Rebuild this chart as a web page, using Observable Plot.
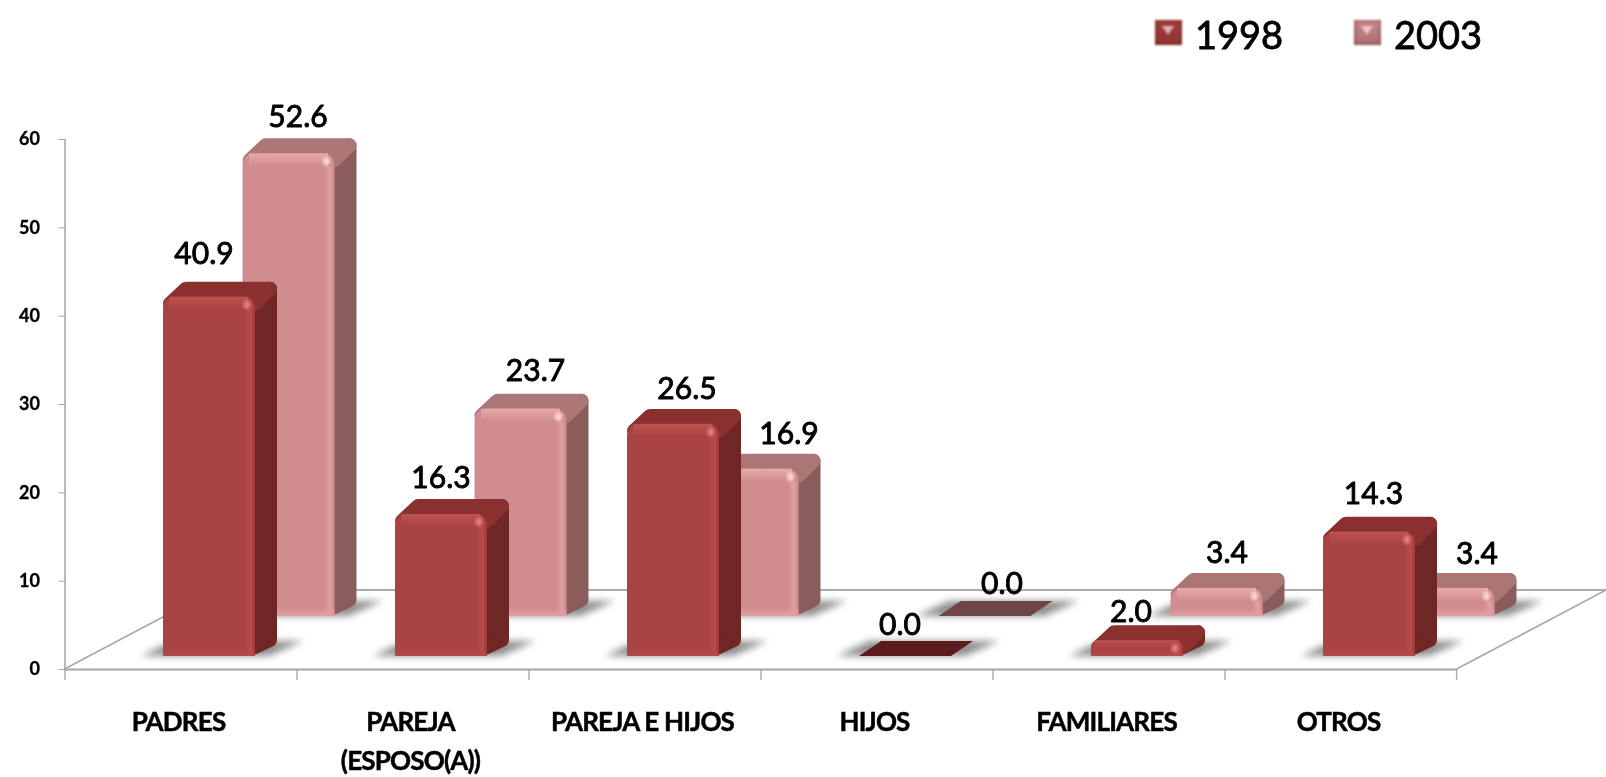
<!DOCTYPE html>
<html lang="es">
<head>
<meta charset="utf-8">
<script src="https://cdn.jsdelivr.net/npm/d3@7"></script>
<script src="https://cdn.jsdelivr.net/npm/@observablehq/plot@0.6"></script>
<style>
  html, body { margin: 0; background: #fff; overflow: hidden; }
  #legend { position: relative; height: 70px; font-family: Lato, sans-serif; font-size: 38px; color: #000; }
  #legend .swatch { position: absolute; top: 20px; width: 27px; height: 25px; box-shadow: inset 0 0 4px rgba(60,0,0,.55); filter: blur(.8px); }
  #legend .swatch::after { content: ""; position: absolute; left: 7px; top: 6px; border-left: 6.5px solid transparent; border-right: 6.5px solid transparent; border-top: 9px solid rgba(255,225,225,.7); }
  #legend .name { position: absolute; top: 11px; line-height: 46px; filter: blur(.5px); -webkit-text-stroke: .8px #000; }
  #chart svg { display: block; filter: blur(.7px); }
  #chart svg g[aria-label="x-axis tick label"] text { letter-spacing: -.8px; stroke: #000; stroke-width: .5px; }
  #chart svg g[aria-label="y-axis tick label"] text { stroke: #000; stroke-width: .3px; }
</style>
</head>
<body>
<div id="legend"></div>
<div id="chart"></div>
<script>
const categories = ["PADRES", "PAREJA\n(ESPOSO(A))", "PAREJA E HIJOS", "HIJOS", "FAMILIARES", "OTROS"];
const values1998 = [40.9, 16.3, 26.5, 0.0, 2.0, 14.3];
const values2003 = [52.6, 23.7, 16.9, 0.0, 3.4, 3.4];
const yTicks = [0, 10, 20, 30, 40, 50, 60];

// Placement of each value label, relative to the band and bar top.
const labelDx1998 = [22.5, 27.5, 41.5, 22.5, 21.5, 32];
const labelDy1998 = [-54, -47, -46, -44, -39, -49];
const labelDx2003 = [116.5, 122, 143.5, 124.5, 117.5, 135.5];
const labelDy2003 = [-87, -88.5, -85.6, -85, -86, -85];

const styles = {
  1998: {front: "#a84341", top: "#8a3130", side: "#6f2725", flat: "#5c1b1c", grad: "a", spot: "#e87e7c",
         offsetX: 98, offsetY: -13},
  2003: {front: "#d08c8e", top: "#ad7676", side: "#8a5c5c", flat: "#6e4646", grad: "b", spot: "#fbd8d8",
         offsetX: 177.5, offsetY: -53}
};
const barW = 92, depthX = 22, depthY = 15;
const floorX = 149.5, floorY = -79;

const NS = "http://www.w3.org/2000/svg";
function el(name, attrs, parent) {
  const n = document.createElementNS(NS, name);
  for (const k in attrs) n.setAttribute(k, attrs[k]);
  if (parent) parent.appendChild(n);
  return n;
}
const pts = a => a.map(p => p.join(",")).join(" ");

const defs = () => {
  const d = el("defs", {});
  d.innerHTML = `
    <filter id="soft" x="-30%" y="-100%" width="160%" height="300%"><feGaussianBlur stdDeviation="3.6"/></filter>
    <filter id="spot" x="-100%" y="-100%" width="300%" height="300%"><feGaussianBlur stdDeviation="1.8"/></filter>
    <linearGradient id="topa" x1="0" y1="0" x2="0" y2="1"><stop offset="0" stop-color="#bd5250"/><stop offset="1" stop-color="#bd5250" stop-opacity="0"/></linearGradient>
    <linearGradient id="topb" x1="0" y1="0" x2="0" y2="1"><stop offset="0" stop-color="#e8aaac"/><stop offset="1" stop-color="#e8aaac" stop-opacity="0"/></linearGradient>
    <linearGradient id="bota" x1="0" y1="1" x2="0" y2="0"><stop offset="0" stop-color="#b24a48"/><stop offset="1" stop-color="#b24a48" stop-opacity="0"/></linearGradient>
    <linearGradient id="botb" x1="0" y1="1" x2="0" y2="0"><stop offset="0" stop-color="#e0a0a2"/><stop offset="1" stop-color="#e0a0a2" stop-opacity="0"/></linearGradient>
    <linearGradient id="edgea" x1="0" y1="0" x2="1" y2="0"><stop offset="0" stop-color="#b64d4b" stop-opacity="0"/><stop offset=".6" stop-color="#b64d4b"/><stop offset="1" stop-color="#9a3a38"/></linearGradient>
    <linearGradient id="edgeb" x1="0" y1="0" x2="1" y2="0"><stop offset="0" stop-color="#e0a0a2" stop-opacity="0"/><stop offset=".6" stop-color="#e0a0a2"/><stop offset="1" stop-color="#c88688"/></linearGradient>`;
  return d;
};

// One row of 3D columns: everything is positioned through the x and y scales.
function columns(values, year) {
  const st = styles[year];
  const rows = categories.map((category, i) => ({category, value: values[i]}));
  return Plot.barY(rows, {
    x: "category", y: "value",
    render(index, {x, y}) {
      const g = el("g", {"aria-label": "columns " + year});
      for (const i of index) {
        const {category, value} = rows[i];
        const x0 = x(category) + st.offsetX, x1 = x0 + barW;
        const yb = y(0) + st.offsetY, yt = y(value) + st.offsetY + 2;
        el("polygon", {points: pts([[x0 - 22, yb], [x1 + 14, yb], [x1 + 48, yb - 15], [x0 + 10, yb - 15]]),
          fill: "#444", opacity: .6, filter: "url(#soft)"}, g);
        if (value === 0) {
          el("polygon", {points: pts([[x0, yb], [x1, yb], [x1 + depthX, yb - depthY], [x0 + depthX, yb - depthY]]), fill: st.flat}, g);
          continue;
        }
        const r = 7, h = yb - yt, c = Math.min(13, h / 2);
        const round = {"stroke-width": 2 * r, "stroke-linejoin": "round"};
        el("polygon", {points: pts([[x1 - 4, yb - r], [x1 + depthX - r, yb - depthY - 1], [x1 + depthX - r, yt - depthY + r], [x1 - 4, yt + r]]),
          fill: st.side, stroke: st.side, ...round}, g);
        el("polygon", {points: pts([[x0 + r, yt + r], [x1, yt + r], [x1 + depthX - r, yt - depthY + r], [x0 + depthX + 1, yt - depthY + r]]),
          fill: st.top, stroke: st.top, ...round}, g);
        el("path", {d: `M${x0},${yb}V${yt + c}Q${x0},${yt} ${x0 + c},${yt}H${x1 - c}Q${x1},${yt} ${x1},${yt + c}V${yb}Z`, fill: st.front}, g);
        el("rect", {x: x1 - 11, y: yt + c, width: 11, height: h - c, fill: `url(#edge${st.grad})`}, g);
        el("rect", {x: x0 + c / 2, y: yt, width: barW - c, height: c, fill: `url(#top${st.grad})`}, g);
        el("rect", {x: x0, y: yb - Math.min(8, h / 3), width: barW, height: Math.min(8, h / 3), fill: `url(#bot${st.grad})`}, g);
        el("ellipse", {cx: x1 - 8, cy: yt + 8, rx: 3.4, ry: 4.2, fill: st.spot, filter: "url(#spot)"}, g);
      }
      return g;
    }
  });
}

function valueLabels(values, dxs, dys) {
  return values.map((v, i) => Plot.text([{category: categories[i], value: v}], {
    x: "category", y: "value", text: d => d3.format(".1f")(d.value),
    dx: dxs[i], dy: dys[i],
    fontSize: 30, fill: "#000", stroke: "#000", strokeWidth: .9, textAnchor: "middle", lineAnchor: "middle"
  }));
}

const floorLines = Plot.ruleY([0], {
  render(index, {x, y}, values, {marginLeft, marginRight, width}) {
    const g = el("g", {"aria-label": "floor", stroke: "#ababab", "stroke-width": 1.8, fill: "none"});
    const yz = y(0), xl = marginLeft, xr = width - marginRight;
    el("line", {x1: xl, y1: yz, x2: xl + floorX, y2: yz + floorY}, g);
    el("line", {x1: xr, y1: yz, x2: xr + floorX, y2: yz + floorY}, g);
    el("line", {x1: xl + floorX, y1: yz + floorY, x2: xr + floorX, y2: yz + floorY}, g);
    for (const c of categories) el("line", {x1: x(c), y1: yz, x2: x(c), y2: yz + 11, "stroke-width": 1.4}, g);
    el("line", {x1: xr, y1: yz, x2: xr, y2: yz + 11, "stroke-width": 1.4}, g);
    return g;
  }
});

const plot = Plot.plot({
  width: 1606, height: 707,
  marginLeft: 64.5, marginRight: 149.4, marginTop: 69, marginBottom: 108,
  style: {fontFamily: "Lato, sans-serif", background: "#fff", overflow: "hidden"},
  x: {domain: categories, padding: 0, label: null},
  y: {domain: [0, 60], label: null},
  marks: [
    defs,
    floorLines,
    columns(values2003, 2003),
    columns(values1998, 1998),
    Plot.ruleY([0], {stroke: "#a5a5a5", strokeWidth: 2.2}),
    Plot.frame({anchor: "left", stroke: "#a5a5a5", strokeWidth: 1.5}),
    Plot.axisY({ticks: yTicks, tickSize: 6, tickPadding: 19, fontSize: 18, fontWeight: 700, color: "#000", stroke: "#a5a5a5", label: null}),
    Plot.axisX({tickSize: 0, tickPadding: 34, fontSize: 26, fontWeight: 700, lineHeight: 1.5, color: "#000", dx: -3, label: null, tickRotate: 0, textOverflow: null}),
    ...valueLabels(values1998, labelDx1998, labelDy1998),
    ...valueLabels(values2003, labelDx2003, labelDy2003)
  ]
});
document.getElementById("chart").appendChild(plot);

const legendItems = [
  {year: "1998", swatch: 1155, text: 1195, bg: "linear-gradient(#a3403e, #8e3331)"},
  {year: "2003", swatch: 1354, text: 1394, bg: "linear-gradient(#c98a8c, #ac6e70)"}
];
const legend = d3.select("#legend");
for (const it of legendItems) {
  legend.append("div").attr("class", "swatch").style("left", it.swatch + "px").style("background", it.bg);
  legend.append("div").attr("class", "name").style("left", it.text + "px").text(it.year);
}
</script>
</body>
</html>
